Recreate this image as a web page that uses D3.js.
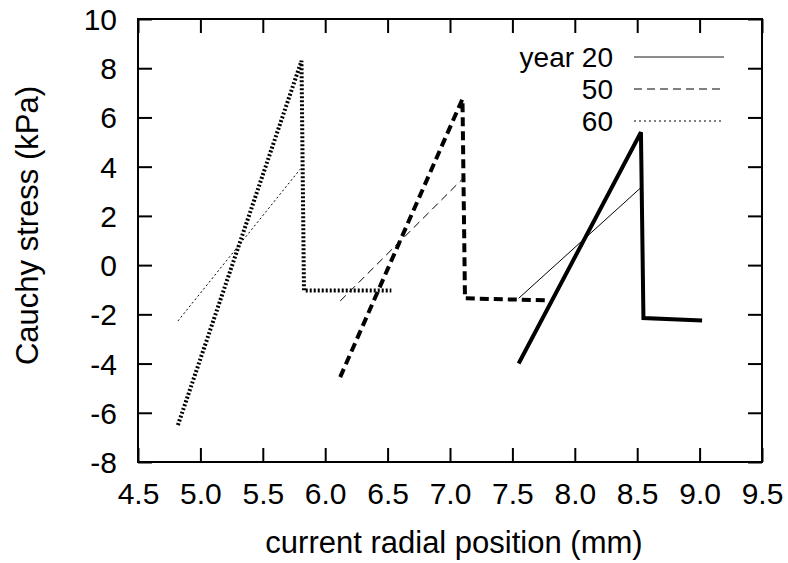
<!DOCTYPE html>
<meta charset="utf-8">
<script src="https://d3js.org/d3.v7.min.js"></script>
<style>
    body {
        margin: 0;
        background-color: white;
    }
    text {
        font-family: "Liberation Sans", Arial, sans-serif;
        fill: black;
    }
</style>

<div id="my_dataviz"></div>

<script>
    // tick values
    var xTicks = [4.5, 5.0, 5.5, 6.0, 6.5, 7.0, 7.5, 8.0, 8.5, 9.0, 9.5];
    var yTicks = [-8, -6, -4, -2, 0, 2, 4, 6, 8, 10];

    // year 20 (solid)
    var year20X = [7.55, 8.53, 8.55, 9.02];
    var year20Y = [-4.0, 5.4, -2.15, -2.25];
    var year20ThinX = [7.55, 8.53];
    var year20ThinY = [-1.35, 3.15];

    // year 50 (dashed)
    var year50X = [6.12, 7.10, 7.12, 7.77];
    var year50Y = [-4.55, 6.75, -1.35, -1.43];
    var year50ThinX = [6.12, 7.10];
    var year50ThinY = [-1.46, 3.5];

    // year 60 (dotted)
    var year60X = [4.82, 5.81, 5.83, 6.53];
    var year60Y = [-6.5, 8.3, -1.03, -1.03];
    var year60ThinX = [4.82, 5.80];
    var year60ThinY = [-2.27, 3.9];

    var legendLabels = ["year 20", "50", "60"];

    // set the dimensions and margins of the graph
    var margin = {
            top: 19,
            right: 26,
            bottom: 101,
            left: 138
        },
        width = 788 - margin.left - margin.right,
        height = 563 - margin.top - margin.bottom;

    var svg = d3.select("#my_dataviz")
        .append("svg")
        .attr("width", width + margin.left + margin.right)
        .attr("height", height + margin.top + margin.bottom)
        .append("g")
        .attr("transform",
            "translate(" + margin.left + "," + margin.top + ")");

    var x = d3.scaleLinear()
        .domain([4.5, 9.5])
        .range([0, width]);

    var y = d3.scaleLinear()
        .domain([-8, 10])
        .range([height, 0]);

    var fmtX = function(d) { return d3.format(".1f")(d).replace("\u2212", "-"); };
    var fmtY = function(d) { return String(d); };

    // axes, ticks pointing inward like gnuplot
    var tick = 14;
    var xAxis = svg.append("g")
        .attr("transform", "translate(0," + height + ")")
        .call(d3.axisBottom(x).tickValues(xTicks).tickFormat(fmtX)
            .tickSizeInner(-tick).tickSizeOuter(0).tickPadding(20));
    svg.append("g")
        .call(d3.axisTop(x).tickValues(xTicks).tickFormat("")
            .tickSizeInner(-tick).tickSizeOuter(0));
    var yAxis = svg.append("g")
        .call(d3.axisLeft(y).tickValues(yTicks).tickFormat(fmtY)
            .tickSizeInner(-tick).tickSizeOuter(0).tickPadding(20));
    svg.append("g")
        .attr("transform", "translate(" + width + ",0)")
        .call(d3.axisRight(y).tickValues(yTicks).tickFormat("")
            .tickSizeInner(-tick).tickSizeOuter(0));

    svg.selectAll(".domain").remove();
    svg.selectAll(".tick line").attr("stroke", "black").attr("stroke-width", 2);
    svg.selectAll(".tick text").style("font-size", "30px");
    xAxis.selectAll(".tick text").attr("dy", "0.71em").attr("y", 21);
    yAxis.selectAll(".tick text").attr("x", -21).attr("dy", "0.35em");

    // frame
    svg.append("rect")
        .attr("x", 0).attr("y", 0)
        .attr("width", width).attr("height", height)
        .attr("fill", "none")
        .attr("stroke", "black")
        .attr("stroke-width", 2);

    // axis titles
    svg.append("text")
        .attr("x", width / 2 + 4)
        .attr("y", height + 91)
        .attr("text-anchor", "middle")
        .style("font-size", "31px")
        .text("current radial position (mm)");

    svg.append("text")
        .attr("transform", "translate(" + (-100) + "," + (height / 2 - 15) + ") rotate(-90)")
        .attr("text-anchor", "middle")
        .style("font-size", "31px")
        .text("Cauchy stress (kPa)");

    var line = d3.line()
        .x(function(d) { return x(d[0]); })
        .y(function(d) { return y(d[1]); });

    function pts(xs, ys) {
        return xs.map(function(v, i) { return [v, ys[i]]; });
    }

    var series = [
        { xs: year20ThinX, ys: year20ThinY, w: 1, dash: null },
        { xs: year50ThinX, ys: year50ThinY, w: 1, dash: "8,5" },
        { xs: year60ThinX, ys: year60ThinY, w: 1, dash: "2,2.5" },
        { xs: year20X, ys: year20Y, w: 4, dash: null },
        { xs: year50X, ys: year50Y, w: 4, dash: "9,5" },
        { xs: year60X, ys: year60Y, w: 4, dash: "2,2" }
    ];

    svg.append("g")
        .selectAll("path")
        .data(series)
        .enter()
        .append("path")
        .attr("d", function(d) { return line(pts(d.xs, d.ys)); })
        .attr("fill", "none")
        .attr("stroke", "black")
        .attr("stroke-width", function(d) { return d.w; })
        .attr("stroke-dasharray", function(d) { return d.dash; })
        .attr("stroke-linejoin", "miter");

    // legend
    var legendDash = [null, "8,5", "2,3"];
    var rowH = 32;
    var legend = svg.append("g")
        .attr("transform", "translate(" + (width - 149) + ",38)");
    legendLabels.forEach(function(lab, i) {
        legend.append("text")
            .attr("x", 0)
            .attr("y", i * rowH)
            .attr("dy", "0.35em")
            .attr("text-anchor", "end")
            .style("font-size", "28px")
            .text(lab);
        legend.append("line")
            .attr("x1", 21).attr("x2", 111)
            .attr("y1", i * rowH).attr("y2", i * rowH)
            .attr("stroke", i == 0 ? "#666" : "black")
            .attr("stroke-width", i == 0 ? 1.5 : 1)
            .attr("stroke-dasharray", legendDash[i]);
    });
</script>
